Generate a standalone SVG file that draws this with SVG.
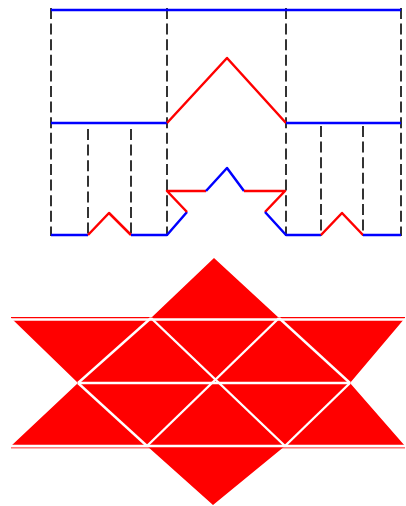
<svg xmlns="http://www.w3.org/2000/svg" width="406" height="506" viewBox="0 0 406 506">
<style>
.dash{stroke:#333;stroke-width:2;stroke-dasharray:11 4.6;fill:none}
.b{stroke:#0000ff;stroke-width:2.5;fill:none;stroke-linejoin:round}
.r{stroke:#ff0000;stroke-width:2.5;fill:none;stroke-linejoin:round}
.tri{fill:#ff0000}
.w{stroke:#fff;stroke-width:2.4;fill:none}
.rl{stroke:#ff0000;stroke-width:1}
</style>
<rect width="406" height="506" fill="#fff"/>
<g id="koch-construction">
  <g id="guides">
    <line class="dash" x1="51" y1="8" x2="51" y2="236"/>
    <line class="dash" x1="167" y1="8" x2="167" y2="236"/>
    <line class="dash" x1="286" y1="8" x2="286" y2="236"/>
    <line class="dash" x1="401" y1="8" x2="401" y2="236"/>
    <line class="dash" x1="88" y1="129" x2="88" y2="236"/>
    <line class="dash" x1="131" y1="129" x2="131" y2="236"/>
    <line class="dash" x1="321" y1="126" x2="321" y2="236"/>
    <line class="dash" x1="363" y1="126" x2="363" y2="236"/>
  </g>
  <g id="level0">
    <line class="b" x1="51" y1="10" x2="401" y2="10"/>
  </g>
  <g id="level1">
    <line class="b" x1="51" y1="123" x2="167" y2="123"/>
    <polyline class="r" points="167,123 227,58 286,123"/>
    <line class="b" x1="286" y1="123" x2="401" y2="123"/>
  </g>
  <g id="level2">
    <polyline class="b" points="51,235 88,235"/>
    <polyline class="r" points="88,235 109,213 131,235"/>
    <polyline class="b" points="131,235 167,235 187,212"/>
    <polyline class="r" points="187,212 167,191 206,191"/>
    <polyline class="b" points="206,191 227,168 244,191"/>
    <polyline class="r" points="244,191 285,191 265,212"/>
    <polyline class="b" points="265,212 286,235 321,235"/>
    <polyline class="r" points="321,235 342,213 363,235"/>
    <polyline class="b" points="363,235 401,235"/>
  </g>
</g>
<g id="triangle-star">
  <polygon class="tri" points="214,258 279,318 405,318 350,383 405,446 285,446 213,505 147,446 11,446 78,383 11,318 151,318"/>
  <line class="rl" x1="11" y1="317.5" x2="405" y2="317.5"/>
  <line class="rl" x1="11" y1="447.8" x2="405" y2="447.8"/>
  <g id="white-lines">
    <line class="w" x1="11" y1="319.5" x2="405" y2="319.5"/>
    <line class="w" x1="78" y1="383" x2="350" y2="383"/>
    <line class="w" x1="11" y1="446" x2="405" y2="446"/>
    <line class="w" x1="151" y1="318" x2="285" y2="446"/>
    <line class="w" x1="279" y1="318" x2="147" y2="446"/>
    <line class="w" x1="151" y1="318" x2="78" y2="383"/>
    <line class="w" x1="78" y1="383" x2="147" y2="446"/>
    <line class="w" x1="279" y1="318" x2="350" y2="383"/>
    <line class="w" x1="350" y1="383" x2="285" y2="446"/>
  </g>
</g>
</svg>
